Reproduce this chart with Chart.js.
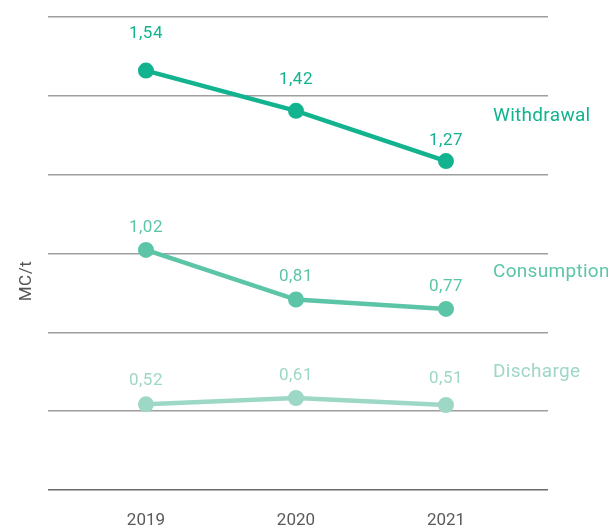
<!DOCTYPE html>
<html>
<head>
<meta charset="utf-8">
<script src="https://cdn.jsdelivr.net/npm/chart.js@4.4.1/dist/chart.umd.min.js"></script>
<style>
  html, body { margin: 0; padding: 0; background: #fff; }
  #wrap { width: 608px; height: 527px; }
</style>
</head>
<body>
<div id="wrap"><canvas id="chart"></canvas></div>
<script>
const years = ['2019', '2020', '2021'];
const withdrawal = [1.54, 1.42, 1.27];
const consumption = [1.02, 0.81, 0.77];
const discharge = [0.52, 0.61, 0.51];
const seriesNames = ['Withdrawal', 'Consumption', 'Discharge'];

// look
const colors = ['#12b38e', '#5cc5a8', '#9dd7c6'];
const valueLift = [[37, 31, 20], [22, 23, 22], [24, 22, 26]];
const nameY = [116, 272, 372];

const series = [withdrawal, consumption, discharge];
const fmt = v => v.toFixed(2).replace('.', ',');

const datasets = series.map((vals, s) => ({
  label: seriesNames[s],
  data: vals.map((v, i) => ({ x: i, y: v })),
  yAxisID: 'y' + (s + 1),
  borderColor: colors[s],
  backgroundColor: colors[s],
  pointBackgroundColor: colors[s],
  pointBorderColor: colors[s],
  borderWidth: 4.5,
  pointRadius: 7,
  pointBorderWidth: 2,
  pointHoverRadius: 7,
  tension: 0
}));

// value labels, series names and the unit label
const annotate = {
  id: 'annotate',
  afterDatasetsDraw(chart) {
    const ctx = chart.ctx;
    const area = chart.chartArea;
    ctx.save();
    ctx.textBaseline = 'middle';
    series.forEach((vals, s) => {
      const meta = chart.getDatasetMeta(s);
      ctx.fillStyle = colors[s];
      ctx.textAlign = 'center';
      ctx.font = '17px Roboto';
      ctx.letterSpacing = '0.5px';
      meta.data.forEach((pt, i) => {
        ctx.fillText(fmt(vals[i]), pt.x, pt.y - valueLift[s][i]);
      });
      ctx.textAlign = 'left';
      ctx.font = '19px Roboto';
      ctx.letterSpacing = '0.3px';
      ctx.fillText(seriesNames[s], area.right - 55, nameY[s]);
    });
    ctx.translate(27, 281);
    ctx.rotate(-Math.PI / 2);
    ctx.textAlign = 'center';
    ctx.fillStyle = '#555';
    ctx.font = '17px Roboto';
    ctx.letterSpacing = '0.5px';
    ctx.fillText('MC/t', 0, 0);
    ctx.restore();
  }
};

new Chart(document.getElementById('chart'), {
  type: 'line',
  data: { datasets },
  plugins: [annotate],
  options: {
    responsive: true,
    maintainAspectRatio: false,
    animation: false,
    layout: { padding: { top: 17, right: 60, bottom: 0, left: 0 } },
    plugins: { legend: { display: false }, tooltip: { enabled: false } },
    scales: {
      x: {
        type: 'linear',
        min: -0.653,
        max: 2.68,
        grid: { display: false },
        border: { display: false },
        afterBuildTicks: s => { s.ticks = years.map((_, i) => ({ value: i })); },
        ticks: {
          callback: v => years[v],
          color: '#5a5a5a',
          font: { family: 'Roboto', size: 17 },
          padding: 13,
          maxRotation: 0
        },
        afterFit: s => { s.height = 37; }
      },
      y: {
        min: 0,
        max: 6,
        ticks: { display: false, stepSize: 1 },
        grid: {
          color: c => c.index === 0 ? '#6a6a6a' : '#9e9e9e',
          lineWidth: 1.5,
          drawTicks: false
        },
        border: { display: false },
        afterFit: s => { s.width = 48; }
      },
      y1: { display: false, min: 0.288, max: 1.70 },
      y2: { display: false, min: 0.003, max: 2.007 },
      y3: { display: false, min: -0.704, max: 6.053 }
    }
  }
});
</script>
</body>
</html>
